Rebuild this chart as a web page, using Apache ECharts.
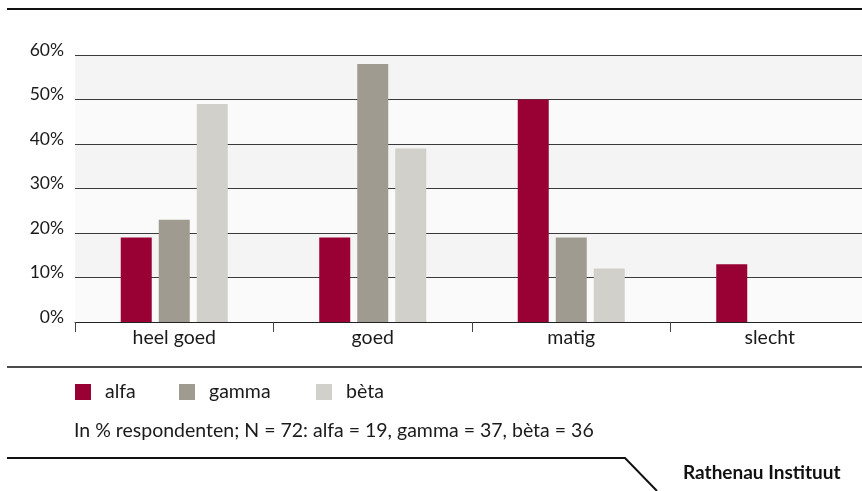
<!DOCTYPE html>
<html>
<head>
<meta charset="utf-8">
<script src="https://cdn.jsdelivr.net/npm/echarts@6/dist/echarts.min.js"></script>
<style>
html,body{margin:0;padding:0;background:#fff;overflow:hidden;width:862px;height:491px;}
#chart{width:869px;height:491px;}
</style>
</head>
<body>
<div id="chart"></div>
<script>
const categories = ['heel goed', 'goed', 'matig', 'slecht'];
const alfa = [19, 19, 50, 13];
const gamma = [23, 58, 19, 0];
const beta = [49, 39, 12, 0];
const yTicks = [0, 10, 20, 30, 40, 50, 60];
const seriesNames = ['alfa', 'gamma', 'bèta'];
const noteText = 'In % respondenten; N = 72: alfa = 19, gamma = 37, bèta = 36';
const brandText = 'Rathenau Instituut';

const colors = ['#990033', '#a09b90', '#d1d0ca'];
const FONT = 'Lato';
const chart = echarts.init(document.getElementById('chart'), null, {renderer: 'canvas'});

function legend(name, left) {
  return {
    data: [name], left: left, top: 382, padding: 0,
    itemWidth: 16, itemHeight: 16, icon: 'rect',
    selectedMode: false,
    textStyle: {fontFamily: FONT, fontSize: 19.5, color: '#1a1a1a', padding: [0, 0, 0, 9]}
  };
}

chart.setOption({
  animation: false,
  color: colors,
  grid: {left: 75, right: 0, top: 55, bottom: 169, containLabel: false},
  legend: [legend(seriesNames[0], 75), legend(seriesNames[1], 179), legend(seriesNames[2], 316)],
  xAxis: {
    type: 'category', data: categories,
    axisLine: {lineStyle: {color: '#222', width: 1}},
    axisTick: {show: true, length: 10, lineStyle: {color: '#444'}},
    axisLabel: {fontFamily: FONT, fontSize: 19.5, color: '#1a1a1a', margin: 6}
  },
  yAxis: {
    type: 'value', min: yTicks[0], max: yTicks[yTicks.length - 1], interval: 10,
    axisLine: {show: false}, axisTick: {show: false},
    axisLabel: {formatter: '{value}%', fontFamily: FONT, fontSize: 17.5, color: '#1a1a1a', margin: 11, verticalAlign: 'bottom', lineHeight: 10},
    splitLine: {lineStyle: {color: '#3a3a3a', width: 1}},
    splitArea: {show: true, areaStyle: {color: ['#fafafa', '#f4f4f4']}}
  },
  series: [
    {name: seriesNames[0], type: 'bar', data: alfa, barWidth: 31, barGap: '22.6%'},
    {name: seriesNames[1], type: 'bar', data: gamma, barWidth: 31, barGap: '22.6%'},
    {name: seriesNames[2], type: 'bar', data: beta, barWidth: 31, barGap: '22.6%'}
  ],
  graphic: [
    {type: 'line', shape: {x1: 7, y1: 9, x2: 869, y2: 9}, style: {stroke: '#111', lineWidth: 2}},
    {type: 'line', shape: {x1: 7, y1: 367, x2: 869, y2: 367}, style: {stroke: '#111', lineWidth: 1.5}},
    {type: 'polyline', shape: {points: [[7, 458], [625, 458], [657, 491]]}, style: {stroke: '#111', lineWidth: 2, fill: null}},
    {type: 'text', x: 74, y: 431, style: {text: noteText, fontFamily: FONT, fontSize: 19.5, fill: '#1a1a1a', textVerticalAlign: 'middle'}},
    {type: 'text', x: 683, y: 473, style: {text: brandText, fontFamily: FONT, fontSize: 19, fontWeight: 'bold', fill: '#111', textVerticalAlign: 'middle'}}
  ]
});
</script>
</body>
</html>
